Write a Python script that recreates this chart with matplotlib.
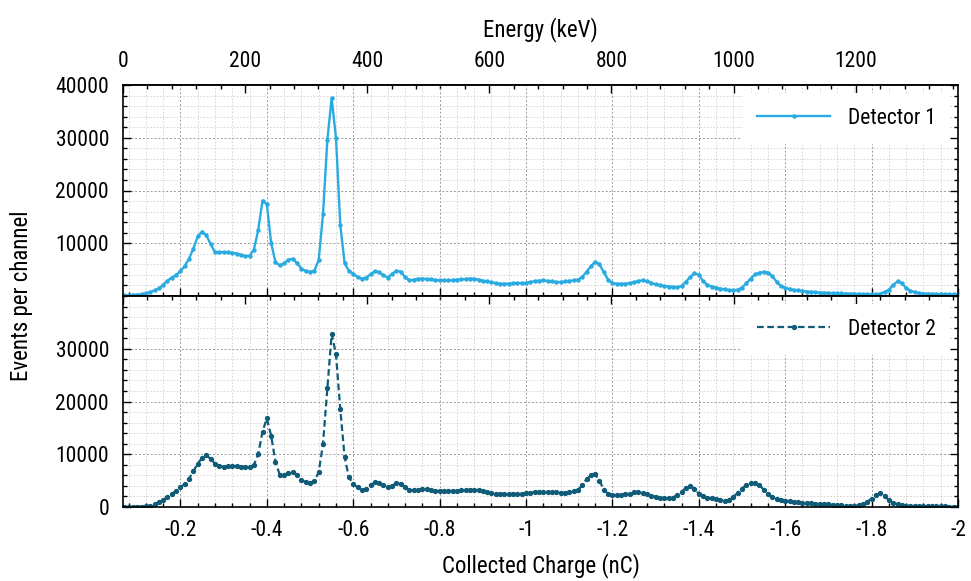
import numpy as np
import matplotlib
matplotlib.use("Agg")
import matplotlib.pyplot as plt
from matplotlib.ticker import MultipleLocator, FixedLocator
from matplotlib import font_manager

_avail = {f.name for f in font_manager.fontManager.ttflist}
_pref = ['Roboto Condensed', 'Liberation Sans Narrow', 'Open Sans Condensed',
         'Roboto', 'DejaVu Sans']
plt.rcParams['font.family'] = [f for f in _pref if f in _avail] + ['DejaVu Sans']

# Charge channels (nC), 0.01 nC steps from -0.07 to -2.00
charge = [-(0.07 + 0.01 * i) for i in range(194)]

detector1 = [
    100, 150, 200, 250, 350, 500, 750, 1050, 1450, 2100,
    2900, 3500, 4000, 4700, 5700, 7100, 9000, 11300, 12200, 11500,
    9800, 8300, 8300, 8300, 8250, 8200, 8050, 7800, 7550, 7600,
    8800, 12500, 18100, 17400, 10000, 6400, 5800, 6200, 6900, 7050,
    6200, 5200, 4700, 4600, 4800, 6800, 15500, 29500, 37500, 30000,
    13500, 6200, 4800, 4200, 3600, 3300, 3500, 4100, 4700, 4500,
    3900, 3500, 4200, 4800, 4600, 3600, 2950, 3100, 3250, 3300,
    3200, 3150, 3050, 2950, 2950, 2950, 3000, 3100, 3150, 3200,
    3300, 3250, 3100, 2900, 2750, 2600, 2450, 2350, 2300, 2350,
    2400, 2450, 2450, 2500, 2650, 2800, 2900, 2950, 2850, 2750,
    2650, 2650, 2750, 2850, 2950, 3100, 3600, 4600, 5600, 6500,
    6000, 4500, 3100, 2500, 2300, 2300, 2350, 2450, 2600, 2850,
    2950, 2800, 2500, 2200, 2000, 1900, 1800, 1750, 1650, 1900,
    2700, 3600, 4300, 4000, 2800, 2100, 1800, 1600, 1400, 1250,
    1100, 1050, 1200, 1600, 2400, 3300, 4100, 4400, 4550, 4450,
    3800, 2700, 1900, 1550, 1300, 1150, 1050, 950, 850, 780,
    720, 660, 600, 560, 530, 500, 480, 460, 440, 420,
    400, 360, 320, 290, 300, 450, 750, 1200, 2100, 2750,
    2400, 1500, 1000, 720, 550, 470, 430, 400, 370, 350,
    330, 310, 290, 280,
]

detector2 = [
    30, 40, 50, 60, 80, 100, 250, 500, 900, 1350,
    1900, 2500, 3100, 3700, 4400, 5400, 6800, 8200, 9300, 9800,
    9100, 8200, 7750, 7650, 7750, 7800, 7750, 7650, 7600, 7550,
    8000, 10000, 14300, 16800, 13500, 8500, 6100, 6000, 6500, 6700,
    6100, 5100, 4700, 4600, 4900, 6600, 12000, 22500, 32800, 29000,
    18500, 9500, 5600, 4400, 3700, 3250, 3450, 4100, 4700, 4500,
    4100, 3850, 4000, 4550, 4400, 3700, 3150, 3150, 3250, 3350,
    3350, 3200, 3100, 3050, 3050, 3050, 3050, 3050, 3150, 3250,
    3250, 3250, 3150, 2950, 2800, 2650, 2550, 2500, 2450, 2450,
    2450, 2470, 2500, 2600, 2700, 2800, 2800, 2800, 2800, 2800,
    2750, 2700, 2700, 2750, 2950, 3200, 4100, 5300, 6000, 6200,
    5000, 3300, 2500, 2300, 2250, 2300, 2400, 2550, 2750, 2900,
    2700, 2450, 2150, 1950, 1800, 1650, 1650, 1800, 2300, 2900,
    3600, 4000, 3500, 2500, 2000, 1800, 1650, 1500, 1350, 1200,
    1350, 1900, 2700, 3500, 4200, 4550, 4550, 4200, 3300, 2500,
    1900, 1550, 1350, 1200, 1100, 1000, 900, 820, 760, 700,
    640, 580, 530, 480, 420, 370, 300, 220, 200, 250,
    350, 600, 1000, 1600, 2300, 2600, 2100, 1300, 800, 500,
    350, 260, 210, 180, 160, 150, 140, 130, 120, 110,
    100, 90, 80, 70,
]

charge_ticks = [-0.2, -0.4, -0.6, -0.8, -1.0, -1.2, -1.4, -1.6, -1.8, -2.0]
charge_tick_labels = ["-0.2", "-0.4", "-0.6", "-0.8", "-1", "-1.2", "-1.4", "-1.6", "-1.8", "-2"]
energy_ticks = [0, 200, 400, 600, 800, 1000, 1200]

KEV_PER_NC = 707.5
Q0 = 0.067


def q2e(q):
    return KEV_PER_NC * (-np.asarray(q) - Q0)


def e2q(e):
    return -(np.asarray(e) / KEV_PER_NC + Q0)


c1 = "#29abe2"
c2 = "#0f5b78"
TICK_FS = 15.5
LABEL_FS = 16.5

fig = plt.figure(figsize=(9.71, 5.81), dpi=100)
W, H = 971, 581
left, right = 123, 958
top_y0, mid_y, bot_y1 = 85, 296, 507
ax1 = fig.add_axes([left / W, 1 - mid_y / H, (right - left) / W, (mid_y - top_y0) / H])
ax2 = fig.add_axes([left / W, 1 - bot_y1 / H, (right - left) / W, (bot_y1 - mid_y) / H])

for ax in (ax1, ax2):
    ax.set_xlim(-Q0, -2.0)
    ax.set_ylim(0, 40000)
    ax.xaxis.set_major_locator(FixedLocator(charge_ticks))
    ax.xaxis.set_minor_locator(MultipleLocator(0.04))
    ax.yaxis.set_major_locator(MultipleLocator(10000))
    ax.yaxis.set_minor_locator(MultipleLocator(2000))
    ax.grid(which='major', color='#9a9a9a', linestyle=(0, (2, 2)), linewidth=0.7)
    ax.grid(which='minor', color='#d0d0d0', linestyle=(0, (2, 2)), linewidth=0.6)
    ax.set_axisbelow(True)
    ax.tick_params(which='both', direction='in', left=True, right=True,
                   bottom=True, top=False, labelsize=TICK_FS, width=1.0)
    ax.tick_params(which='major', length=6)
    ax.tick_params(which='minor', length=3)
    ax.tick_params(axis='y', which='major', pad=10)
    for s in ax.spines.values():
        s.set_linewidth(1.2)
    sec = ax.secondary_xaxis('top', functions=(q2e, e2q))
    sec.xaxis.set_major_locator(FixedLocator(energy_ticks))
    sec.xaxis.set_minor_locator(MultipleLocator(40))
    sec.tick_params(which='both', direction='in', labelsize=TICK_FS, width=1.0)
    sec.tick_params(which='major', length=6, pad=9)
    sec.tick_params(which='minor', length=3)
    if ax is ax2:
        sec.tick_params(labeltop=False)
    else:
        sec.set_xlabel("Energy (keV)", fontsize=LABEL_FS, labelpad=11)
    sec.spines['top'].set_linewidth(1.2)

ax1.plot(charge, detector1, color=c1, linewidth=1.7, marker='o', markersize=2.2,
         label="Detector 1")
ax2.plot(charge, detector2, color=c2, linewidth=1.6, linestyle=(0, (3, 1.6)),
         marker='o', markersize=2.8, label="Detector 2")

ax1.set_yticks([10000, 20000, 30000, 40000])
ax1.tick_params(labelbottom=False)
ax2.set_yticks([0, 10000, 20000, 30000])
ax2.set_xticklabels(charge_tick_labels)
ax2.tick_params(axis='x', which='major', pad=9)
ax2.set_xlabel("Collected Charge (nC)", fontsize=LABEL_FS, labelpad=9)

for ax in (ax1, ax2):
    leg = ax.legend(loc='upper right', fontsize=15.5, handlelength=3.4,
                    frameon=True, fancybox=False, framealpha=1.0,
                    borderaxespad=0.35, borderpad=0.7, handletextpad=0.8)
    leg.get_frame().set_edgecolor('none')
    leg.get_frame().set_facecolor('white')

fig.text(22 / W, 1 - mid_y / H, "Events per channel", rotation=90,
         va='center', ha='center', fontsize=LABEL_FS)

fig.savefig("out.png", dpi=100)
